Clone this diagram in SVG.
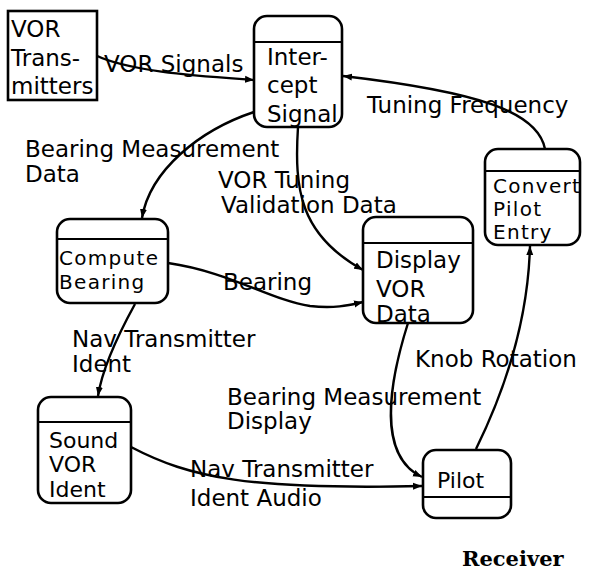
<svg xmlns="http://www.w3.org/2000/svg" width="592" height="571" viewBox="0 0 592 571">
<defs>
<marker id="arr" markerWidth="10" markerHeight="8" refX="9" refY="4" orient="auto" markerUnits="userSpaceOnUse">
<path d="M0,0.5 L9,4 L0,7.5 z" fill="#000"/>
</marker>
<style>
.box{fill:#fff;stroke:#000;stroke-width:2.6}
.div{stroke:#000;stroke-width:2.2}
.t{font-family:"DejaVu Sans",sans-serif;font-size:23px;fill:#000}
.nt{font-family:"DejaVu Sans",sans-serif;font-size:22px;fill:#000}
.st{font-family:"DejaVu Sans",sans-serif;font-size:20px;letter-spacing:1.3px;fill:#000}
.c{fill:none;stroke:#000;stroke-width:2.4;marker-end:url(#arr)}
</style>
</defs>
<rect width="592" height="571" fill="#fff"/>

<g id="connectors">
<path class="c" d="M95,55 C130,72 200,76 254,80"/>
<path class="c" d="M545,149 C538,112 480,92 343,76"/>
<path class="c" d="M254,112 C200,130 150,170 142,218"/>
<path class="c" d="M298,127 C294,190 300,235 363,270"/>
<path class="c" d="M168,263 C230,272 270,300 310,306 C335,309 350,305 363,302"/>
<path class="c" d="M135,304 C118,335 102,370 98,396"/>
<path class="c" d="M131,447 C190,478 250,490 422,486"/>
<path class="c" d="M408,323 C390,380 376,455 422,477"/>
<path class="c" d="M476,449 C505,390 528,320 530,246"/>
</g>

<g id="vor-transmitters">
<rect class="box" x="8" y="11" width="89" height="89"/>
<text class="t" x="11" y="37">VOR</text>
<text class="t" x="11" y="66">Trans-</text>
<text class="t" x="11" y="94">mitters</text>
</g>

<g id="intercept-signal">
<rect class="box" x="254" y="16" width="88" height="111" rx="13"/>
<line class="div" x1="254" y1="42" x2="342" y2="42"/>
<text class="t" x="267" y="65">Inter-</text>
<text class="t" x="267" y="93">cept</text>
<text class="t" x="267" y="122">Signal</text>
</g>

<g id="compute-bearing">
<rect class="box" x="57" y="219" width="111" height="84" rx="13"/>
<line class="div" x1="57" y1="239" x2="168" y2="239"/>
<text class="st" x="59" y="265">Compute</text>
<text class="st" x="59" y="289">Bearing</text>
</g>

<g id="display-vor-data">
<rect class="box" x="363" y="217" width="110" height="106" rx="13"/>
<line class="div" x1="363" y1="243" x2="473" y2="243"/>
<text class="t" x="376" y="268">Display</text>
<text class="t" x="376" y="297">VOR</text>
<text class="t" x="376" y="322">Data</text>
</g>

<g id="convert-pilot-entry">
<rect class="box" x="485" y="149" width="95" height="96" rx="13"/>
<line class="div" x1="485" y1="171" x2="580" y2="171"/>
<text class="st" x="493" y="193">Convert</text>
<text class="st" x="493" y="216">Pilot</text>
<text class="st" x="493" y="239">Entry</text>
</g>

<g id="sound-vor-ident">
<rect class="box" x="38" y="397" width="93" height="106" rx="13"/>
<line class="div" x1="38" y1="422" x2="131" y2="422"/>
<text class="nt" x="49" y="448">Sound</text>
<text class="nt" x="49" y="472">VOR</text>
<text class="nt" x="49" y="497">Ident</text>
</g>

<g id="pilot">
<rect class="box" x="423" y="450" width="88" height="68" rx="13"/>
<line class="div" x1="423" y1="497" x2="511" y2="497"/>
<text class="nt" x="437" y="488">Pilot</text>
</g>

<g id="labels">
<text class="t" x="104" y="72">VOR Signals</text>
<text class="t" x="367" y="113">Tuning Frequency</text>
<text class="t" x="25" y="157">Bearing Measurement</text>
<text class="t" x="25" y="182">Data</text>
<text class="t" x="218" y="188">VOR Tuning</text>
<text class="t" x="221" y="213">Validation Data</text>
<text class="t" x="223" y="290">Bearing</text>
<text class="t" x="72" y="347">Nav Transmitter</text>
<text class="t" x="72" y="372">Ident</text>
<text class="t" x="415" y="367">Knob Rotation</text>
<text class="t" x="227" y="405">Bearing Measurement</text>
<text class="t" x="227" y="429">Display</text>
<text class="t" x="190" y="477">Nav Transmitter</text>
<text class="t" x="190" y="506">Ident Audio</text>
<text x="462" y="566" style="font-family:'DejaVu Serif',serif;font-weight:bold;font-size:21px">Receiver</text>
</g>
</svg>
